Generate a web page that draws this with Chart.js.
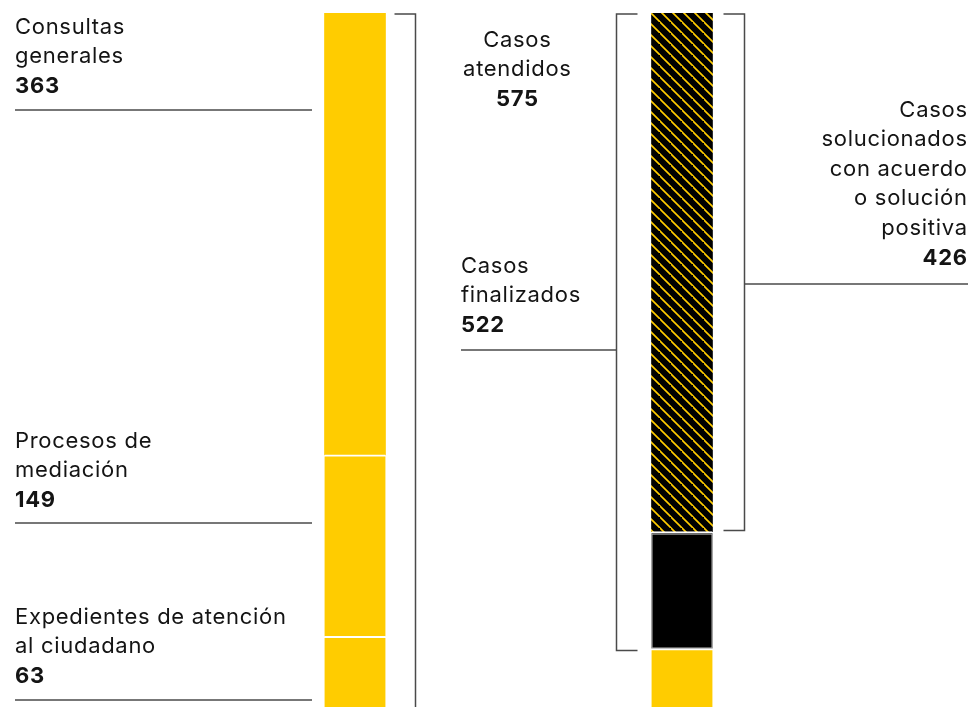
<!DOCTYPE html>
<html lang="es">
<head>
<meta charset="utf-8">
<script src="https://cdn.jsdelivr.net/npm/chart.js@4.4.1/dist/chart.umd.min.js"></script>
<style>
  html, body { margin: 0; padding: 0; background: #fff; overflow: hidden; }
  #wrap { position: relative; width: 970px; height: 714px; }
</style>
</head>
<body>
<div id="wrap"><canvas id="atenciones"></canvas></div>
<script>
const columnas = ['Tipo de atención', 'Estado de los casos'];

// columna izquierda, de abajo arriba
const expedientes = [63, null];
const mediacion = [149, null];
const consultas = [363, null];

// columna derecha, de abajo arriba
const enTramite = [null, 53];
const sinAcuerdo = [null, 96];
const solucionados = [null, 426];

const AMARILLO = '#ffcc00';
const NEGRO = '#000000';
const TEXTO = '#141414';
const FUENTE = 'Inter, "Noto Sans", sans-serif';

const sum = (...vals) => vals.reduce((a, b) => a + (b || 0), 0);
const totalAtendidos = sum(enTramite[1], sinAcuerdo[1], solucionados[1]);
const totalFinalizados = sum(sinAcuerdo[1], solucionados[1]);

// trama diagonal amarilla sobre negro
const makeHatch = () => {
  const size = 11;
  const c = document.createElement('canvas');
  c.width = size;
  c.height = size;
  const g = c.getContext('2d');
  g.fillStyle = NEGRO;
  g.fillRect(0, 0, size, size);
  g.strokeStyle = AMARILLO;
  g.lineWidth = 1.6;
  g.beginPath();
  g.moveTo(-1, -1);
  g.lineTo(size + 1, size + 1);
  g.moveTo(-size - 1, -1);
  g.lineTo(1, size + 1);
  g.moveTo(size - 1, -size - 1);
  g.lineTo(2 * size + 1, size + 1);
  g.stroke();
  return g.createPattern(c, 'repeat');
};

const gap = { top: 2, right: 0, bottom: 0, left: 0 };

const datasets = [
  { label: 'Expedientes de atención al ciudadano', data: expedientes, backgroundColor: AMARILLO, borderColor: '#fff', borderWidth: gap },
  { label: 'Procesos de mediación', data: mediacion, backgroundColor: AMARILLO, borderColor: '#fff', borderWidth: gap },
  { label: 'Consultas generales', data: consultas, backgroundColor: AMARILLO, borderWidth: 0 },
  { label: 'Casos en trámite', data: enTramite, backgroundColor: AMARILLO, borderColor: '#fff', borderWidth: gap },
  { label: 'Casos finalizados sin acuerdo', data: sinAcuerdo, backgroundColor: NEGRO, borderColor: '#fff', borderWidth: gap },
  { label: 'Casos solucionados', data: solucionados, backgroundColor: makeHatch(), borderWidth: 0 },
];

const drawLines = (ctx, x, y, lines, align) => {
  ctx.textAlign = align;
  ctx.letterSpacing = '0.7px';
  lines.forEach((line, i) => {
    const last = i === lines.length - 1;
    ctx.font = (last ? '700 ' : '400 ') + '22px ' + FUENTE;
    // el espaciado añade hueco tras la última letra; se compensa al alinear a la derecha
    const dx = align === 'right' ? 0.7 : align === 'center' ? 0.35 : 0;
    ctx.fillText(line, x + dx, y + i * 29.6);
  });
};

const hLine = (ctx, x1, x2, y) => {
  ctx.beginPath();
  ctx.moveTo(x1, y);
  ctx.lineTo(x2, y);
  ctx.stroke();
};

const anotaciones = {
  id: 'anotaciones',
  afterDatasetsDraw(chart) {
    const { ctx } = chart;
    const y = chart.scales.y;
    const barIzq = chart.getDatasetMeta(2).data[0];
    const barDer = chart.getDatasetMeta(5).data[1];
    const negro = chart.getDatasetMeta(4).data[1];

    ctx.save();
    // contorno gris del tramo negro
    const negroTop = y.getPixelForValue(sum(enTramite[1], sinAcuerdo[1])) + 2;
    const negroBase = y.getPixelForValue(enTramite[1]);
    ctx.strokeStyle = '#b5b5b5';
    ctx.lineWidth = 1;
    ctx.strokeRect(negro.x - negro.width / 2 + 0.5, negroTop + 0.5, negro.width - 1, negroBase - negroTop - 1);

    ctx.strokeStyle = '#4a4a4a';
    ctx.lineWidth = 1.5;
    ctx.lineJoin = 'miter';

    // corchete de la columna izquierda
    const izqR = barIzq.x + barIzq.width / 2;
    const top = y.getPixelForValue(totalAtendidos) + 1;
    ctx.beginPath();
    ctx.moveTo(izqR + 9, top);
    ctx.lineTo(izqR + 30, top);
    ctx.lineTo(izqR + 30, chart.height);
    ctx.stroke();

    // corchete de casos finalizados
    const derL = barDer.x - barDer.width / 2;
    const finBase = negroBase + 2;
    ctx.beginPath();
    ctx.moveTo(derL - 14, top);
    ctx.lineTo(derL - 35, top);
    ctx.lineTo(derL - 35, finBase);
    ctx.lineTo(derL - 14, finBase);
    ctx.stroke();

    // corchete de casos solucionados
    const derR = barDer.x + barDer.width / 2;
    const solBase = negroTop - 3;
    ctx.beginPath();
    ctx.moveTo(derR + 11, top);
    ctx.lineTo(derR + 32, top);
    ctx.lineTo(derR + 32, solBase);
    ctx.lineTo(derR + 11, solBase);
    ctx.stroke();

    // líneas guía de las etiquetas
    hLine(ctx, 15, 312, 110);
    hLine(ctx, 15, 312, 523);
    hLine(ctx, 15, 312, 700);
    hLine(ctx, 461, derL - 35, 350);
    hLine(ctx, derR + 32, 968, 284);

    ctx.fillStyle = TEXTO;
    ctx.textBaseline = 'middle';
    drawLines(ctx, 15, 27, ['Consultas', 'generales', String(consultas[0])], 'left');
    drawLines(ctx, 15, 441, ['Procesos de', 'mediación', String(mediacion[0])], 'left');
    drawLines(ctx, 15, 617, ['Expedientes de atención', 'al ciudadano', String(expedientes[0])], 'left');
    drawLines(ctx, 517, 40, ['Casos', 'atendidos', String(totalAtendidos)], 'center');
    drawLines(ctx, 461, 266, ['Casos', 'finalizados', String(totalFinalizados)], 'left');
    drawLines(ctx, 967, 110, ['Casos', 'solucionados', 'con acuerdo', 'o solución', 'positiva', String(solucionados[1])], 'right');
    ctx.restore();
  },
};

new Chart(document.getElementById('atenciones'), {
  type: 'bar',
  data: { labels: columnas, datasets },
  options: {
    responsive: true,
    maintainAspectRatio: false,
    animation: false,
    events: [],
    layout: { padding: { left: 191.5, right: 124.5, top: 13, bottom: 1 } },
    datasets: { bar: { barThickness: 61, borderSkipped: false } },
    plugins: { legend: { display: false }, tooltip: { enabled: false } },
    scales: {
      x: { stacked: true, display: false },
      y: { stacked: true, display: false, min: 0, max: 575 },
    },
  },
  plugins: [anotaciones],
});
</script>
</body>
</html>
